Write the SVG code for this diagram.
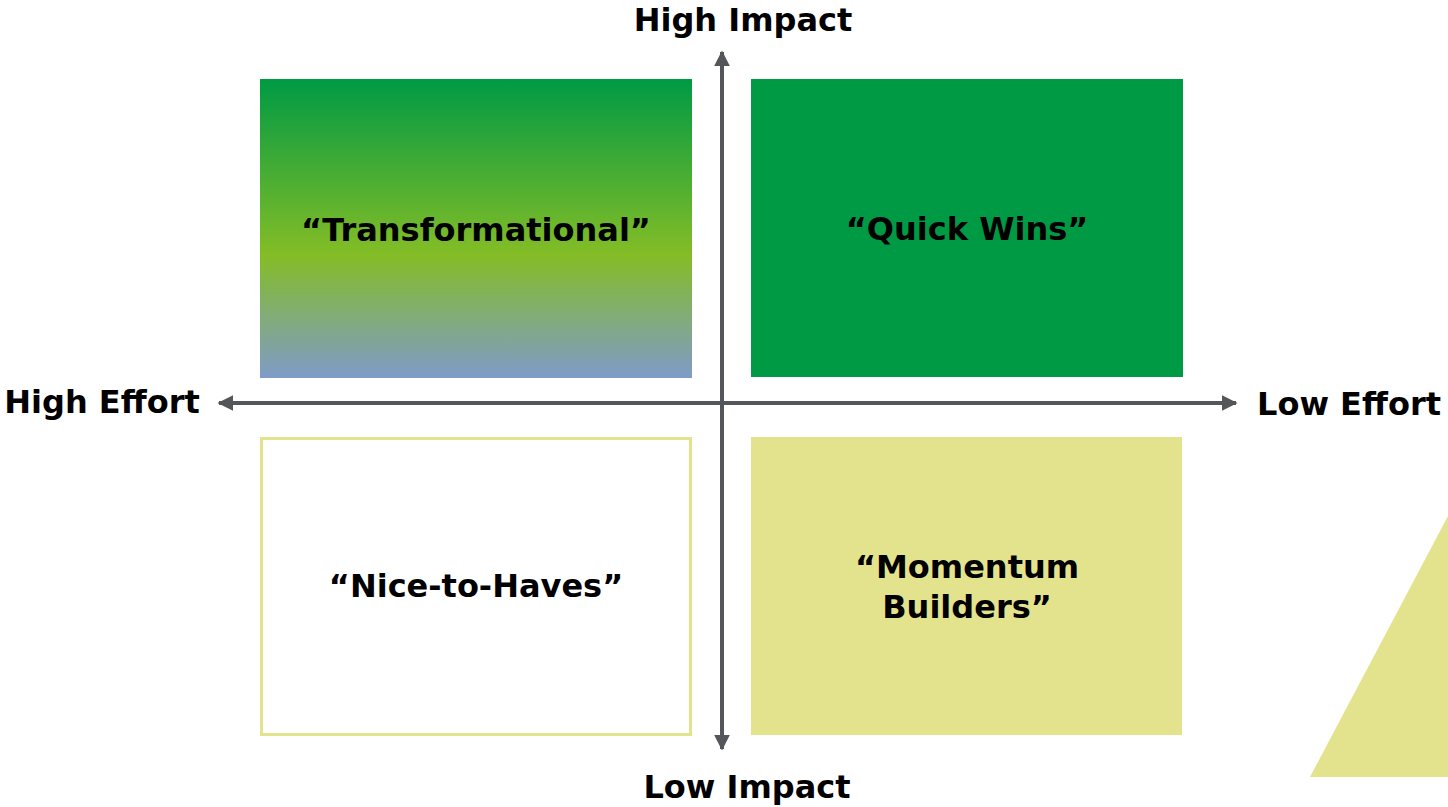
<svg xmlns="http://www.w3.org/2000/svg" width="1448" height="807" viewBox="0 0 1448 807">
<style>
.lbl{font-family:"DejaVu Sans","Verdana",sans-serif;font-weight:bold;font-size:32px;fill:#000;text-anchor:middle}
.axis{stroke:#53565A;stroke-width:4;fill:none}
</style>
<defs>
<linearGradient id="g1" x1="0" y1="0" x2="0" y2="1">
<stop offset="0" stop-color="#009A44"/>
<stop offset="0.59" stop-color="#84BD26"/>
<stop offset="1" stop-color="#7F9BC8"/>
</linearGradient>
<marker id="ah" viewBox="0 0 10 10" refX="9" refY="5" markerWidth="4" markerHeight="4" orient="auto-start-reverse" markerUnits="strokeWidth">
<path d="M0,0 L10,5 L0,10 Z" fill="#53565A"/>
</marker>
</defs>
<rect width="1448" height="807" fill="#fff"/>
<polygon points="1310,777 1448,516 1448,777" fill="#E3E38D"/>
<g id="transformational">
<rect x="260" y="79" width="432" height="299" fill="url(#g1)"/>
<text class="lbl" x="476" y="241">“Transformational”</text>
</g>
<g id="quick-wins">
<rect x="751" y="79" width="432" height="298" fill="#009A44"/>
<text class="lbl" x="967" y="240">“Quick Wins”</text>
</g>
<g id="nice-to-haves">
<rect x="261.5" y="438.5" width="429" height="296" fill="#fff" stroke="#E3E38D" stroke-width="3"/>
<text class="lbl" x="476" y="597">“Nice-to-Haves”</text>
</g>
<g id="momentum-builders">
<rect x="751" y="437" width="431" height="298" fill="#E3E38D"/>
<text class="lbl" x="967" y="578">“Momentum</text>
<text class="lbl" x="967" y="618">Builders”</text>
</g>
<g id="connectors">
<line class="axis" x1="722" y1="403" x2="722" y2="52" marker-end="url(#ah)"/>
<line class="axis" x1="722" y1="403" x2="722" y2="749" marker-end="url(#ah)"/>
<line class="axis" x1="722" y1="403" x2="219" y2="403" marker-end="url(#ah)"/>
<line class="axis" x1="722" y1="403" x2="1236" y2="403" marker-end="url(#ah)"/>
</g>
<g id="axis-labels">
<text class="lbl" x="743" y="31">High Impact</text>
<text class="lbl" x="747" y="798">Low Impact</text>
<text class="lbl" x="102" y="413">High Effort</text>
<text class="lbl" x="1349" y="415">Low Effort</text>
</g>
</svg>
